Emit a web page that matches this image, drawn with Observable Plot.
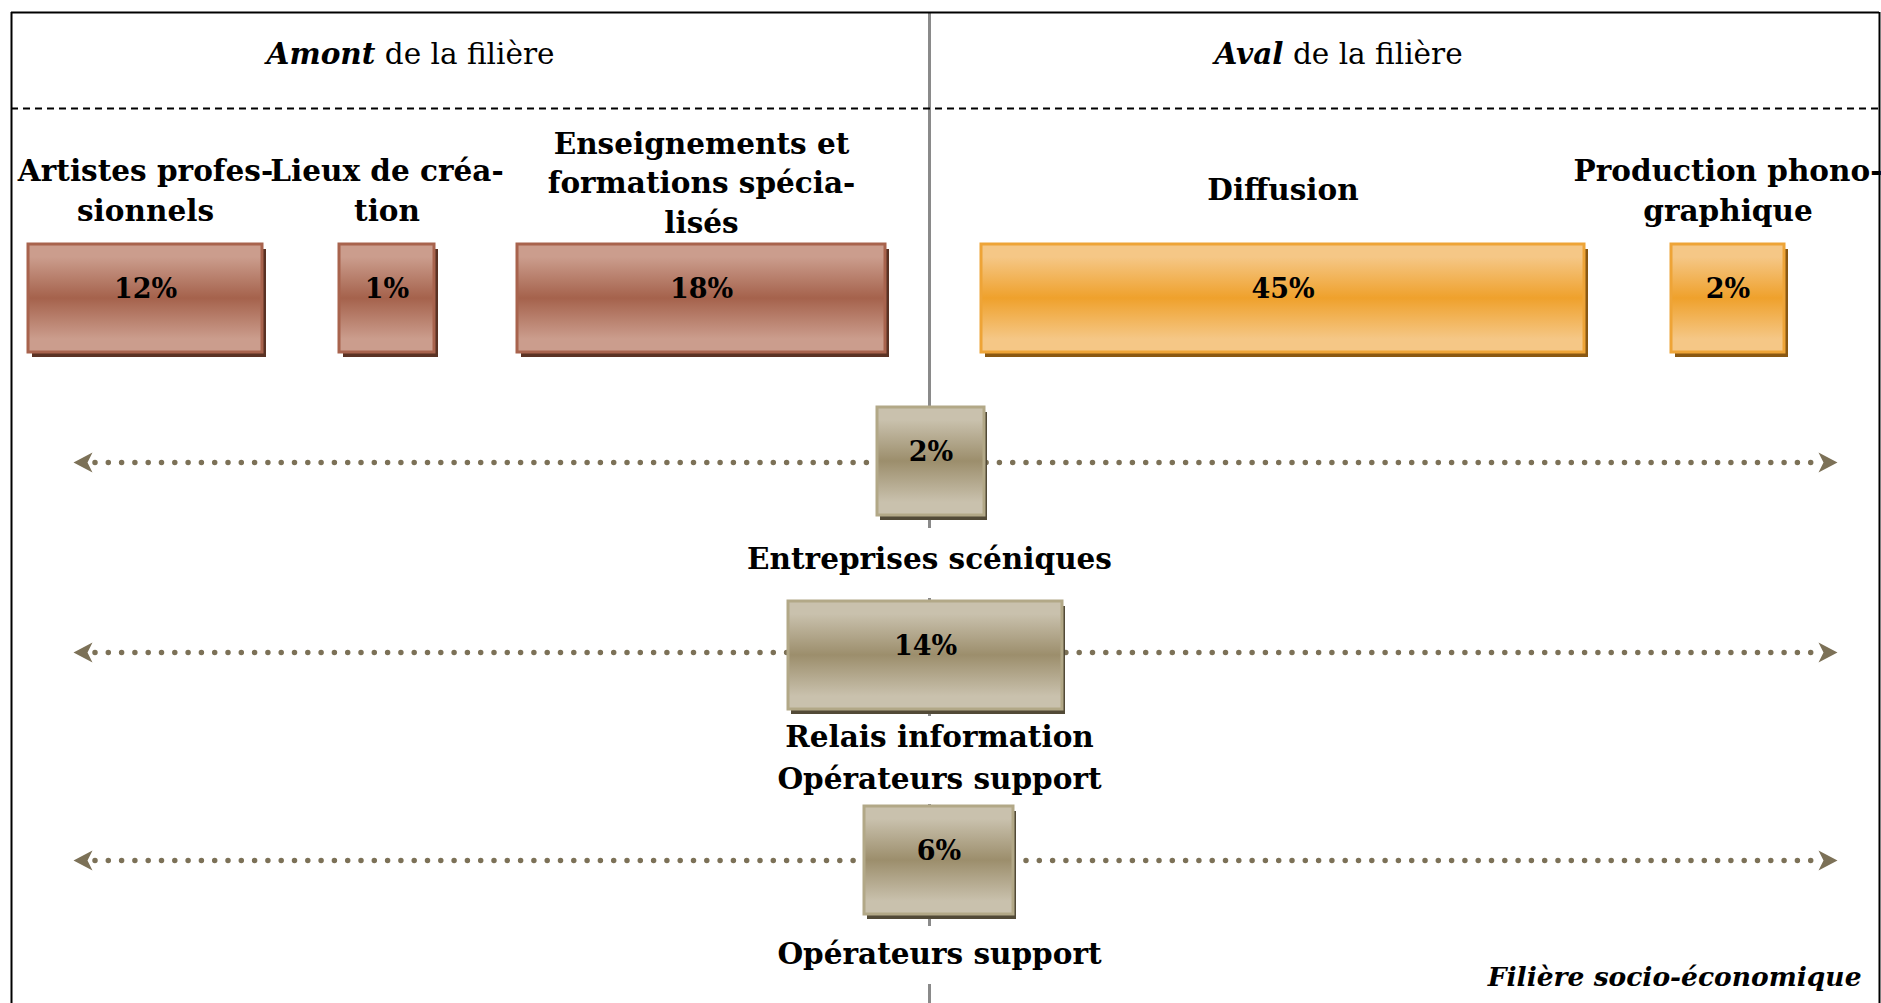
<!DOCTYPE html>
<html><head><meta charset="utf-8">
<script src="https://cdn.jsdelivr.net/npm/d3@7"></script>
<script src="https://cdn.jsdelivr.net/npm/@observablehq/plot@0.6"></script>
<style>
html,body{margin:0;padding:0;background:#fff;overflow:hidden;}
</style></head><body><div id="chart"></div>
<script>
// ---------- DATA ----------
const upstreamCategories = ["Artistes profes-\nsionnels", "Lieux de créa-\ntion", "Enseignements et\nformations spécia-\nlisés"];
const upstreamValues = [12, 1, 18];
const downstreamCategories = ["Diffusion", "Production phono-\ngraphique"];
const downstreamValues = [45, 2];
const transversalCategories = ["Entreprises scéniques", "Relais information\nOpérateurs support", "Opérateurs support"];
const transversalValues = [2, 14, 6];
const sideHeadings = ["Amont", "Aval"];
const headingSuffix = "de la filière";
const footnote = "Filière socio-économique";

// ---------- LAYOUT (diagram units on a 1881 x 1003 canvas) ----------
const W = 1881, H = 1003;
const upstreamX1 = [28, 339, 517], upstreamX2 = [262, 434, 885];
const upstreamLabelY = [188, 188, 180];
const downstreamX1 = [981, 1671], downstreamX2 = [1584, 1784];
const downstreamLabelY = [187, 188];
const topRowY = [244, 352];
const transX1 = [877, 788, 864], transX2 = [984, 1062, 1013];
const transY1 = [407, 601, 806], transY2 = [515, 709, 914];
const transArrowY = [462, 652, 860];
const transLabelX = [929, 939, 939], transLabelY = [555, 754, 950];
const transLabelMask = [[528, 598], [716, 804], [926, 984]];
const headingX = [410, 1338], headingY = 54;
const frame = {left: 11, right: 1879, top: 12, dash: 108, center: 929};
const arrowSpan = [73, 1837];
const footnotePos = [1861, 977];

// ---------- BUILD ----------
const upstream = upstreamCategories.map((c, i) => ({cat: c, v: upstreamValues[i], x1: upstreamX1[i], x2: upstreamX2[i], ly: upstreamLabelY[i]}));
const downstream = downstreamCategories.map((c, i) => ({cat: c, v: downstreamValues[i], x1: downstreamX1[i], x2: downstreamX2[i], ly: downstreamLabelY[i]}));
const transversal = transversalCategories.map((c, i) => ({
  cat: c, v: transversalValues[i], x1: transX1[i], x2: transX2[i], y1: transY1[i], y2: transY2[i],
  ay: transArrowY[i], lx: transLabelX[i], ly: transLabelY[i], m1: transLabelMask[i][0], m2: transLabelMask[i][1]
}));
const headings = sideHeadings.map((h, i) => ({text: h + " " + headingSuffix, x: headingX[i]}));

const defsMark = () => {
  const defs = d3.create("svg:defs");
  const grads = [["gradAmont", "#cb9d8d", "#a5624c"], ["gradAval", "#f5c786", "#efa12c"], ["gradTrans", "#c9c1ad", "#9c8e6c"]];
  for (const [id, light, mid] of grads) {
    const g = defs.append("linearGradient").attr("id", id).attr("x1", 0).attr("x2", 0).attr("y1", 0).attr("y2", 1);
    g.append("stop").attr("offset", "0%").attr("stop-color", light);
    g.append("stop").attr("offset", "12%").attr("stop-color", light);
    g.append("stop").attr("offset", "50%").attr("stop-color", mid);
    g.append("stop").attr("offset", "88%").attr("stop-color", light);
    g.append("stop").attr("offset", "100%").attr("stop-color", light);
  }
  return defs.node();
};

const arrowSymbol = {
  draw(ctx, size) {
    const s = Math.sqrt(size / Math.PI);
    ctx.moveTo(10 * s, 0);
    ctx.lineTo(-9 * s, -10 * s);
    ctx.lineTo(-4 * s, 0);
    ctx.lineTo(-9 * s, 10 * s);
    ctx.closePath();
  }
};

const arrowDots = transversal.flatMap(d => [
  {x: arrowSpan[0] + 10, y: d.ay, rot: 180},
  {x: arrowSpan[1] - 10, y: d.ay, rot: 0}
]);

const boldText = {fontFamily: "DejaVu Serif", fontWeight: "bold", fill: "#000"};
const LABEL_SIZE = 29.5;

const plot = Plot.plot({
  width: W, height: H, margin: 0,
  x: {domain: [0, W], range: [0, W], axis: null},
  y: {domain: [0, H], range: [0, H], axis: null},
  style: {background: "#fff", fontFamily: "DejaVu Serif"},
  marks: [
    defsMark,
    // frame
    Plot.ruleX([frame.center], {y1: frame.top, y2: H, stroke: "#8a8a8a", strokeWidth: 3}),
    Plot.ruleY([frame.top], {x1: frame.left, x2: frame.right, stroke: "#000", strokeWidth: 2}),
    Plot.ruleX([frame.left, frame.right], {y1: frame.top, y2: H, stroke: "#000", strokeWidth: 2}),
    Plot.ruleY([frame.dash], {x1: frame.left, x2: frame.right, stroke: "#000", strokeWidth: 2, strokeDasharray: "7,5"}),
    // headings
    Plot.text(headings, {x: "x", y: () => headingY, text: "text", fontSize: 29.5, fontFamily: "DejaVu Serif", fill: "#000"}),
    // dotted arrows
    Plot.ruleY(transversal, {y: "ay", x1: () => arrowSpan[0] + 22, x2: () => arrowSpan[1] - 14, stroke: "#7c7157", strokeWidth: 5.5, strokeDasharray: "0,13.3", strokeLinecap: "round"}),
    Plot.dot(arrowDots, {x: "x", y: "y", rotate: "rot", r: 1, symbol: arrowSymbol, fill: "#7c7157", stroke: "none"}),
    // upstream bars
    Plot.rect(upstream, {x1: "x1", x2: "x2", y1: () => topRowY[0], y2: () => topRowY[1], fill: "#5a3224", dx: 4, dy: 5}),
    Plot.rect(upstream, {x1: "x1", x2: "x2", y1: () => topRowY[0], y2: () => topRowY[1], fill: "url(#gradAmont)", stroke: "#a8634d", strokeWidth: 3}),
    // downstream bars
    Plot.rect(downstream, {x1: "x1", x2: "x2", y1: () => topRowY[0], y2: () => topRowY[1], fill: "#8a5812", dx: 4, dy: 5}),
    Plot.rect(downstream, {x1: "x1", x2: "x2", y1: () => topRowY[0], y2: () => topRowY[1], fill: "url(#gradAval)", stroke: "#eea437", strokeWidth: 3}),
    // transversal boxes
    Plot.rect(transversal, {x1: "x1", x2: "x2", y1: "y1", y2: "y2", fill: "#524a37", dx: 3, dy: 5}),
    Plot.rect(transversal, {x1: "x1", x2: "x2", y1: "y1", y2: "y2", fill: "url(#gradTrans)", stroke: "#b2a887", strokeWidth: 3}),
    // label masks over the centre line
    Plot.rect(transversal, {x1: () => frame.center - 8, x2: () => frame.center + 8, y1: "m1", y2: "m2", fill: "#fff"}),
    // category labels
    Plot.text(upstream, {x: d => (d.x1 + d.x2) / 2, y: "ly", text: "cat", lineAnchor: "middle", lineHeight: 1.34, fontSize: LABEL_SIZE, ...boldText}),
    Plot.text(downstream, {x: d => (d.x1 + d.x2) / 2, y: "ly", text: "cat", lineAnchor: "middle", lineHeight: 1.36, fontSize: LABEL_SIZE, ...boldText}),
    Plot.text(transversal, {x: "lx", y: "ly", text: "cat", lineAnchor: "middle", lineHeight: 1.42, fontSize: LABEL_SIZE, ...boldText}),
    // values
    Plot.text([...upstream, ...downstream], {x: d => (d.x1 + d.x2) / 2, y: () => (topRowY[0] + topRowY[1]) / 2, dy: -9, text: d => d.v + "%", fontSize: 27, ...boldText}),
    Plot.text(transversal, {x: d => (d.x1 + d.x2) / 2, y: d => (d.y1 + d.y2) / 2, dy: -9, text: d => d.v + "%", fontSize: 27, ...boldText}),
    // footnote
    Plot.text([footnote], {x: () => footnotePos[0], y: () => footnotePos[1], text: d => d, textAnchor: "end", fontSize: 26.5, fontStyle: "italic", ...boldText})
  ]
});

// mixed-style headings: bold italic keyword + regular suffix
plot.querySelectorAll("text").forEach(t => {
  const s = t.textContent;
  for (const h of sideHeadings) {
    if (s === h + " " + headingSuffix) {
      while (t.firstChild) t.removeChild(t.firstChild);
      const a = document.createElementNS("http://www.w3.org/2000/svg", "tspan");
      a.setAttribute("font-weight", "bold");
      a.setAttribute("font-style", "italic");
      a.textContent = h;
      const b = document.createElementNS("http://www.w3.org/2000/svg", "tspan");
      b.textContent = " " + headingSuffix;
      t.appendChild(a); t.appendChild(b);
    }
  }
});

document.getElementById("chart").appendChild(plot);
</script>
</body></html>
